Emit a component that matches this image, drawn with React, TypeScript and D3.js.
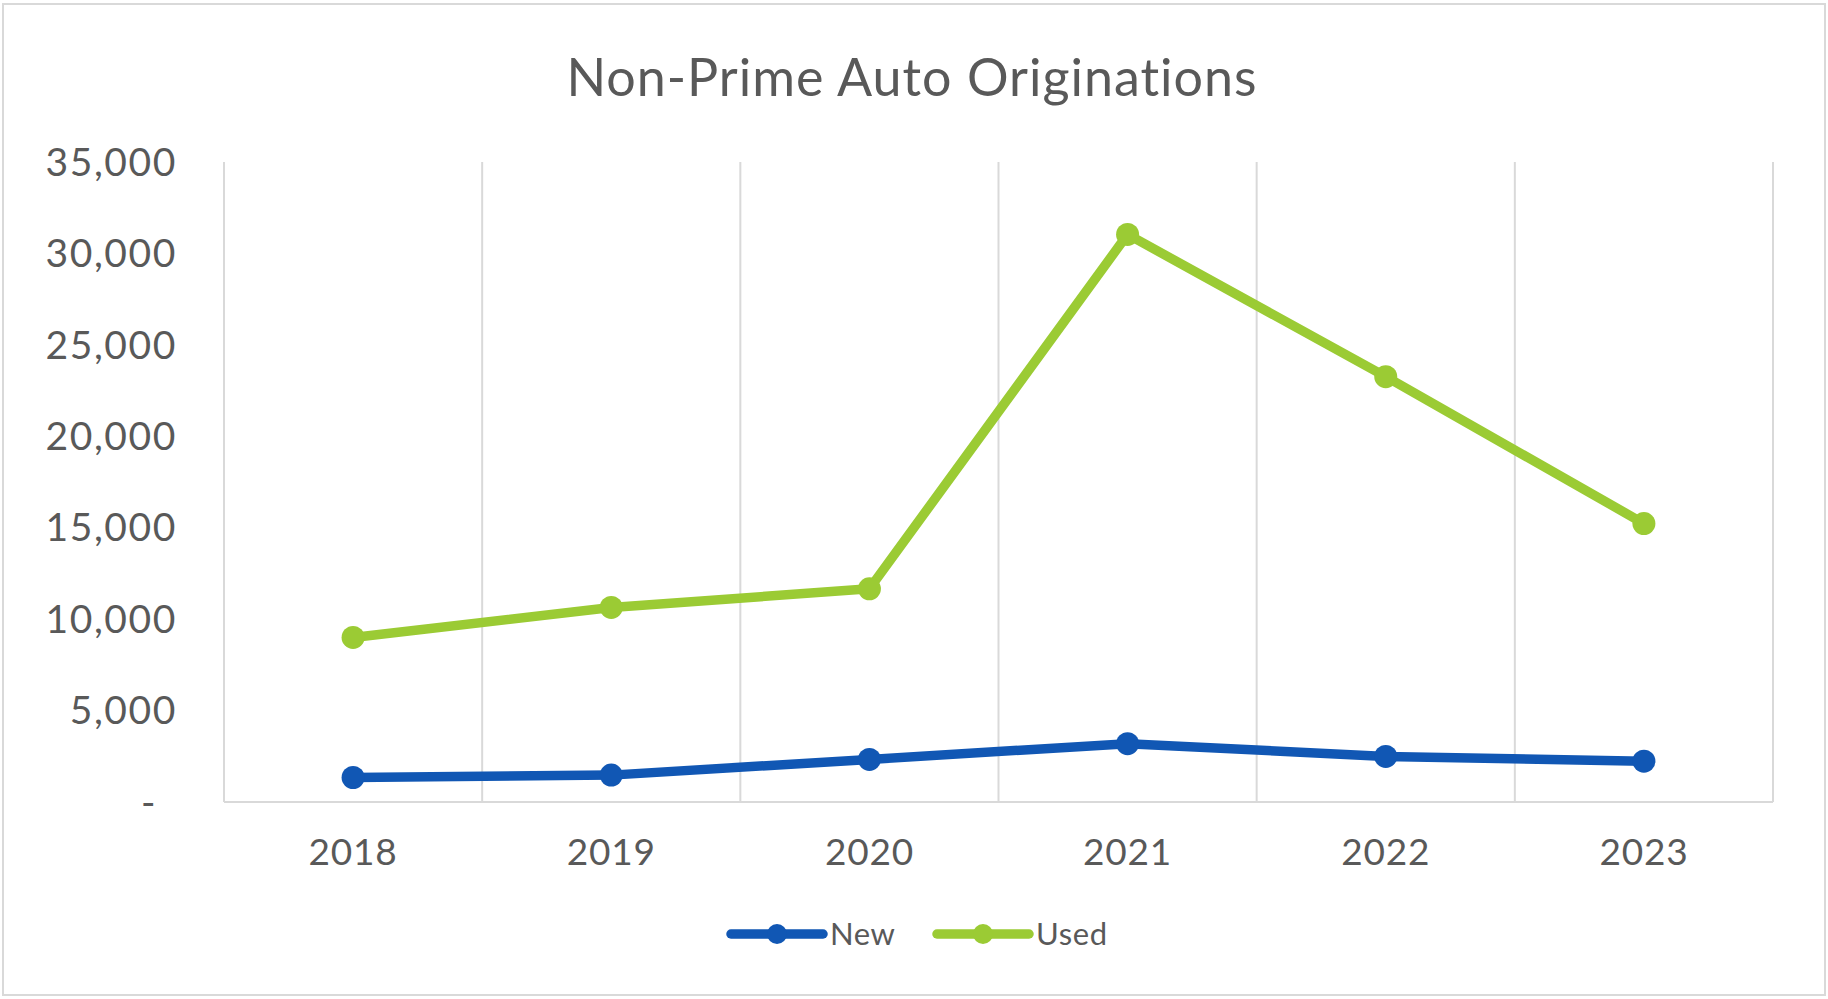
import React, { useEffect, useRef } from "react";
import * as d3 from "d3";

const categories = ["2018", "2019", "2020", "2021", "2022", "2023"];
const newValues = [1340, 1470, 2330, 3190, 2490, 2230];
const usedValues = [9000, 10640, 11660, 31040, 23260, 15230];
const yTicks = [0, 5000, 10000, 15000, 20000, 25000, 30000, 35000];
const seriesNames = ["New", "Used"];
const seriesColors = ["#1157B4", "#9BCB34"];

const W = 1828;
const H = 999;
const FONT = "Lato, 'Open Sans', sans-serif";
const TEXT = "#595959";
const GRID = "#d9d9d9";

export default function App() {
  const ref = useRef<SVGSVGElement>(null);
  useEffect(() => {
    const svg = d3.select(ref.current);
    svg.selectAll("*").remove();
    const left = 224, right = 1773, top = 162, bottom = 802;

    svg.append("rect").attr("x", 3).attr("y", 4).attr("width", W - 6).attr("height", H - 8)
      .attr("fill", "#fff").attr("stroke", GRID).attr("stroke-width", 2);

    svg.append("text").attr("x", 912).attr("y", 96).attr("text-anchor", "middle")
      .attr("font-family", FONT).attr("font-size", 52).attr("letter-spacing", 1).attr("fill", TEXT)
      .text("Non-Prime Auto Originations");

    const x = d3.scaleBand().domain(categories).range([left, right]).padding(0);
    const y = d3.scaleLinear().domain([0, 35000]).range([bottom, top]);

    const bounds = categories.map((c) => x(c)!).concat([right]);
    svg.append("g").selectAll("line").data(bounds).join("line")
      .attr("x1", (d) => d).attr("x2", (d) => d).attr("y1", top).attr("y2", bottom)
      .attr("stroke", GRID).attr("stroke-width", 2);
    svg.append("line").attr("x1", left).attr("x2", right).attr("y1", bottom).attr("y2", bottom)
      .attr("stroke", GRID).attr("stroke-width", 2);

    const fmt = d3.format(",");
    svg.append("g").selectAll("text").data(yTicks).join("text")
      .attr("x", (d) => (d === 0 ? 157 : 177)).attr("y", (d) => y(d))
      .attr("dy", "0.35em").attr("text-anchor", "end")
      .attr("font-family", FONT).attr("font-size", 39).attr("letter-spacing", 1.6).attr("fill", TEXT)
      .text((d) => (d === 0 ? "-" : fmt(d)));

    svg.append("g").selectAll("text").data(categories).join("text")
      .attr("x", (d) => x(d)! + x.bandwidth() / 2).attr("y", 852)
      .attr("dy", "0.35em").attr("text-anchor", "middle")
      .attr("font-family", FONT).attr("font-size", 37).attr("letter-spacing", 0.8).attr("fill", TEXT)
      .text((d) => d);

    const series = [newValues, usedValues];
    series.forEach((vals, i) => {
      const line = d3.line<number>()
        .x((_, j) => x(categories[j])! + x.bandwidth() / 2)
        .y((d) => y(d));
      svg.append("path").attr("d", line(vals)!).attr("fill", "none")
        .attr("stroke", seriesColors[i]).attr("stroke-width", 9.5)
        .attr("stroke-linejoin", "round").attr("stroke-linecap", "round");
      svg.append("g").selectAll("circle").data(vals).join("circle")
        .attr("cx", (_, j) => x(categories[j])! + x.bandwidth() / 2)
        .attr("cy", (d) => y(d)).attr("r", 11.5).attr("fill", seriesColors[i]);
    });

    const legendX = [731, 937];
    seriesNames.forEach((name, i) => {
      const lx = legendX[i];
      const ly = 934;
      svg.append("line").attr("x1", lx).attr("x2", lx + 92).attr("y1", ly).attr("y2", ly)
        .attr("stroke", seriesColors[i]).attr("stroke-width", 9.5).attr("stroke-linecap", "round");
      svg.append("circle").attr("cx", lx + 46).attr("cy", ly).attr("r", 10).attr("fill", seriesColors[i]);
      svg.append("text").attr("x", lx + 99).attr("y", ly).attr("dy", "0.35em")
        .attr("font-family", FONT).attr("font-size", 31).attr("letter-spacing", 0.6).attr("fill", TEXT).text(name);
    });
  }, []);
  return (
    <svg ref={ref} width={W} height={H} style={{ position: "absolute", left: 0, top: 0 }} />
  );
}
